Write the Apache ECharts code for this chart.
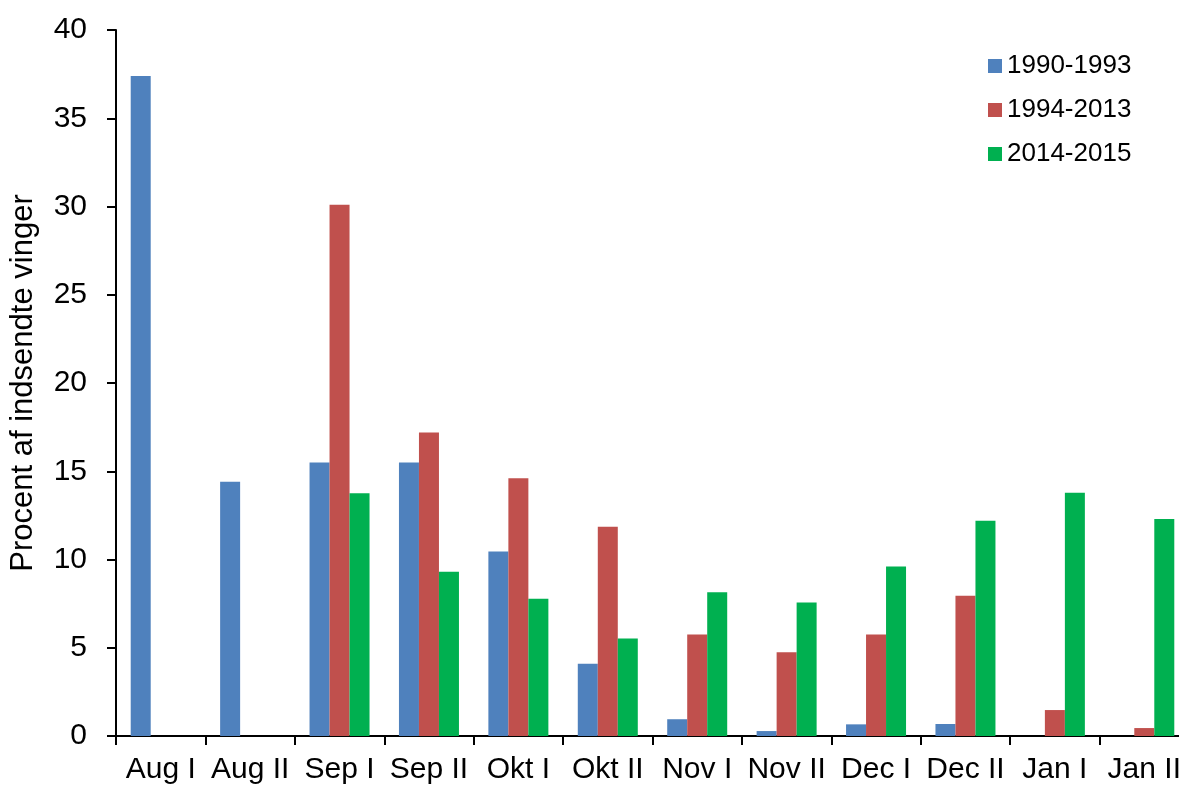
<!DOCTYPE html>
<html>
<head>
<meta charset="utf-8">
<script src="https://cdn.jsdelivr.net/npm/echarts@6/dist/echarts.min.js"></script>
<style>
  html, body { margin: 0; padding: 0; background: #fff; overflow: hidden; }
  #chart { width: 1190px; height: 790px; }
</style>
</head>
<body>
<div id="chart"></div>
<script>
// Half-month periods
const categories = ['Aug I', 'Aug II', 'Sep I', 'Sep II', 'Okt I', 'Okt II', 'Nov I', 'Nov II', 'Dec I', 'Dec II', 'Jan I', 'Jan II'];

// Share of submitted wings per period (%)
const series1990_1993 = [37.4, 14.4, 15.5, 15.5, 10.45, 4.1, 0.95, 0.28, 0.66, 0.68, null, null];
const series1994_2013 = [null, null, 30.1, 17.2, 14.6, 11.85, 5.75, 4.75, 5.75, 7.95, 1.47, 0.45];
const series2014_2015 = [null, null, 13.75, 9.3, 7.77, 5.52, 8.15, 7.56, 9.6, 12.2, 13.78, 12.3];

const seriesNames = ['1990-1993', '1994-2013', '2014-2015'];
const yTicks = { min: 0, max: 40, interval: 5 };

const font = 'Liberation Sans, Arial, sans-serif';
const colors = ['#4F81BD', '#C0504D', '#00B050'];

// The plot runs slightly past the right edge of the window, so the
// last category label is clipped there.
const chart = echarts.init(document.getElementById('chart'));
chart.setOption({
  animation: false,
  color: colors,
  textStyle: { fontFamily: font, color: '#000' },
  grid: { left: 115, right: 1, top: 30, bottom: 54, containLabel: false },
  legend: {
    orient: 'vertical',
    left: 983,
    top: 48,
    itemWidth: 14,
    itemHeight: 14,
    itemGap: 18,
    icon: 'rect',
    textStyle: { fontSize: 26, fontFamily: font, color: '#000' },
    data: seriesNames
  },
  xAxis: {
    type: 'category',
    data: categories,
    axisLine: { lineStyle: { color: '#000', width: 2 } },
    axisTick: { show: true, length: 9, lineStyle: { color: '#000', width: 2 } },
    axisLabel: { fontSize: 30, color: '#000', margin: 19, interval: 0, fontFamily: font },
    splitLine: { show: false }
  },
  yAxis: {
    type: 'value',
    min: yTicks.min,
    max: yTicks.max,
    interval: yTicks.interval,
    name: 'Procent af indsendte vinger',
    nameLocation: 'middle',
    nameGap: 77,
    nameTextStyle: { fontSize: 31, color: '#000', fontFamily: font },
    axisLine: { show: true, lineStyle: { color: '#000', width: 2 } },
    axisTick: { show: true, length: 9, lineStyle: { color: '#000', width: 2 } },
    axisLabel: { fontSize: 30, color: '#000', margin: 29, fontFamily: font },
    splitLine: { show: false }
  },
  series: [
    { name: seriesNames[0], type: 'bar', data: series1990_1993, barWidth: 20, barGap: '0%' },
    { name: seriesNames[1], type: 'bar', data: series1994_2013, barWidth: 20, barGap: '0%' },
    { name: seriesNames[2], type: 'bar', data: series2014_2015, barWidth: 20, barGap: '0%' }
  ]
});
</script>
</body>
</html>
